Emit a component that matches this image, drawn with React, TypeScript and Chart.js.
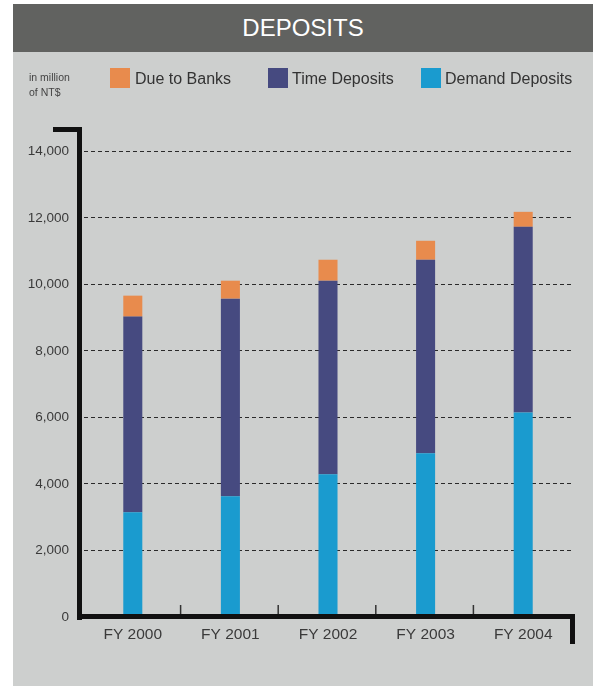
import React, { useEffect, useRef } from "react";
import { Chart, registerables } from "chart.js";

Chart.register(...registerables);

const categories = ["FY 2000", "FY 2001", "FY 2002", "FY 2003", "FY 2004"];
const demandDeposits = [3150, 3630, 4290, 4920, 6150];
const timeDeposits = [5880, 5940, 5820, 5820, 5580];
const dueToBanks = [630, 540, 630, 570, 450];
const yTickValues = [0, 2000, 4000, 6000, 8000, 10000, 12000, 14000];

const FONT = "'Liberation Sans', Arial, Helvetica, sans-serif";
const ORANGE = "#E88B4D";
const NAVY = "#464A80";
const CYAN = "#1A9BCF";
const PANEL = "#CDCFCE";
const HEADER = "#616260";

const W = 580;
const H = 682;

const axisPlugin = {
  id: "thickAxes",
  afterDraw(chart: any) {
    const { ctx, chartArea } = chart;
    const x = chart.scales.x;
    const left = chartArea.left;
    const bottom = chartArea.bottom;
    const right = chartArea.right;
    ctx.save();
    ctx.strokeStyle = "#333";
    ctx.lineWidth = 1.5;
    for (let i = 0; i < categories.length - 1; i++) {
      const px = (x.getPixelForTick(i) + x.getPixelForTick(i + 1)) / 2 - 1;
      ctx.beginPath();
      ctx.moveTo(px, bottom - 12);
      ctx.lineTo(px, bottom);
      ctx.stroke();
    }
    ctx.fillStyle = "#111";
    ctx.fillRect(left - 7, chartArea.top - 1, 5, bottom - chartArea.top + 4);
    ctx.fillRect(left - 31, chartArea.top - 1, 29, 5);
    ctx.fillRect(left - 7, bottom - 3, right - left + 10, 5);
    ctx.fillRect(right - 2, bottom - 3, 5, 30);
    ctx.restore();
  },
};

export default function App() {
  const ref = useRef<HTMLCanvasElement>(null);

  useEffect(() => {
    if (!ref.current) return;
    const chart = new Chart(ref.current, {
      type: "bar",
      data: {
        labels: categories,
        datasets: [
          { label: "Demand Deposits", data: demandDeposits, backgroundColor: CYAN },
          { label: "Time Deposits", data: timeDeposits, backgroundColor: NAVY },
          { label: "Due to Banks", data: dueToBanks, backgroundColor: ORANGE },
        ],
      },
      options: {
        responsive: false,
        animation: false,
        events: [],
        layout: { padding: { left: 0, right: 21, top: 124, bottom: 39 } },
        plugins: { legend: { display: false }, tooltip: { enabled: false } },
        datasets: { bar: { barPercentage: 0.195, categoryPercentage: 1 } },
        scales: {
          x: {
            stacked: true,
            grid: { display: false, drawTicks: false },
            border: { display: false },
            ticks: { color: "#3a3a3a", font: { family: FONT, size: 15.5 }, padding: 8 },
            afterFit: (s: any) => {
              s.height = 30;
            },
          },
          y: {
            stacked: true,
            min: 0,
            max: 14700,
            border: { display: false, dash: [4, 3] },
            grid: { drawTicks: false, color: "#2a2a2a", lineWidth: 1 },
            ticks: {
              stepSize: 2000,
              includeBounds: false,
              color: "#3a3a3a",
              font: { family: FONT, size: 13.5 },
              padding: 15,
              callback: (v: any) => Number(v).toLocaleString("en-US"),
            },
            afterBuildTicks: (s: any) => {
              s.ticks = yTickValues.map((v) => ({ value: v }));
            },
            afterFit: (s: any) => {
              s.width = 71;
            },
          },
        },
      },
      plugins: [axisPlugin],
    } as any);
    return () => chart.destroy();
  }, []);

  const legendItems = [
    { label: "Due to Banks", color: ORANGE, box: 97, text: 122 },
    { label: "Time Deposits", color: NAVY, box: 255, text: 279 },
    { label: "Demand Deposits", color: CYAN, box: 408, text: 432 },
  ];

  return (
    <div
      style={{
        position: "absolute",
        left: 13,
        top: 4,
        width: W,
        height: H,
        background: PANEL,
        fontFamily: FONT,
        overflow: "hidden",
      }}
    >
      <canvas
        ref={ref}
        width={W}
        height={H}
        style={{ position: "absolute", left: 0, top: 0, display: "block" }}
      />
      <div
        style={{
          position: "absolute",
          left: 0,
          top: 0,
          width: W,
          height: 48,
          background: HEADER,
          color: "#fff",
          fontSize: 24,
          lineHeight: "48px",
          textAlign: "center",
        }}
      >
        DEPOSITS
      </div>
      <div
        style={{
          position: "absolute",
          left: 16,
          top: 66,
          fontSize: 10.5,
          lineHeight: "14.5px",
          color: "#444",
        }}
      >
        in million
        <br />
        of NT$
      </div>
      {legendItems.map((it) => (
        <React.Fragment key={it.label}>
          <div
            style={{
              position: "absolute",
              left: it.box,
              top: 64,
              width: 20,
              height: 20,
              background: it.color,
            }}
          />
          <div
            style={{
              position: "absolute",
              left: it.text,
              top: 65,
              height: 20,
              lineHeight: "20px",
              fontSize: 16,
              color: "#333",
              whiteSpace: "nowrap",
            }}
          >
            {it.label}
          </div>
        </React.Fragment>
      ))}
    </div>
  );
}
